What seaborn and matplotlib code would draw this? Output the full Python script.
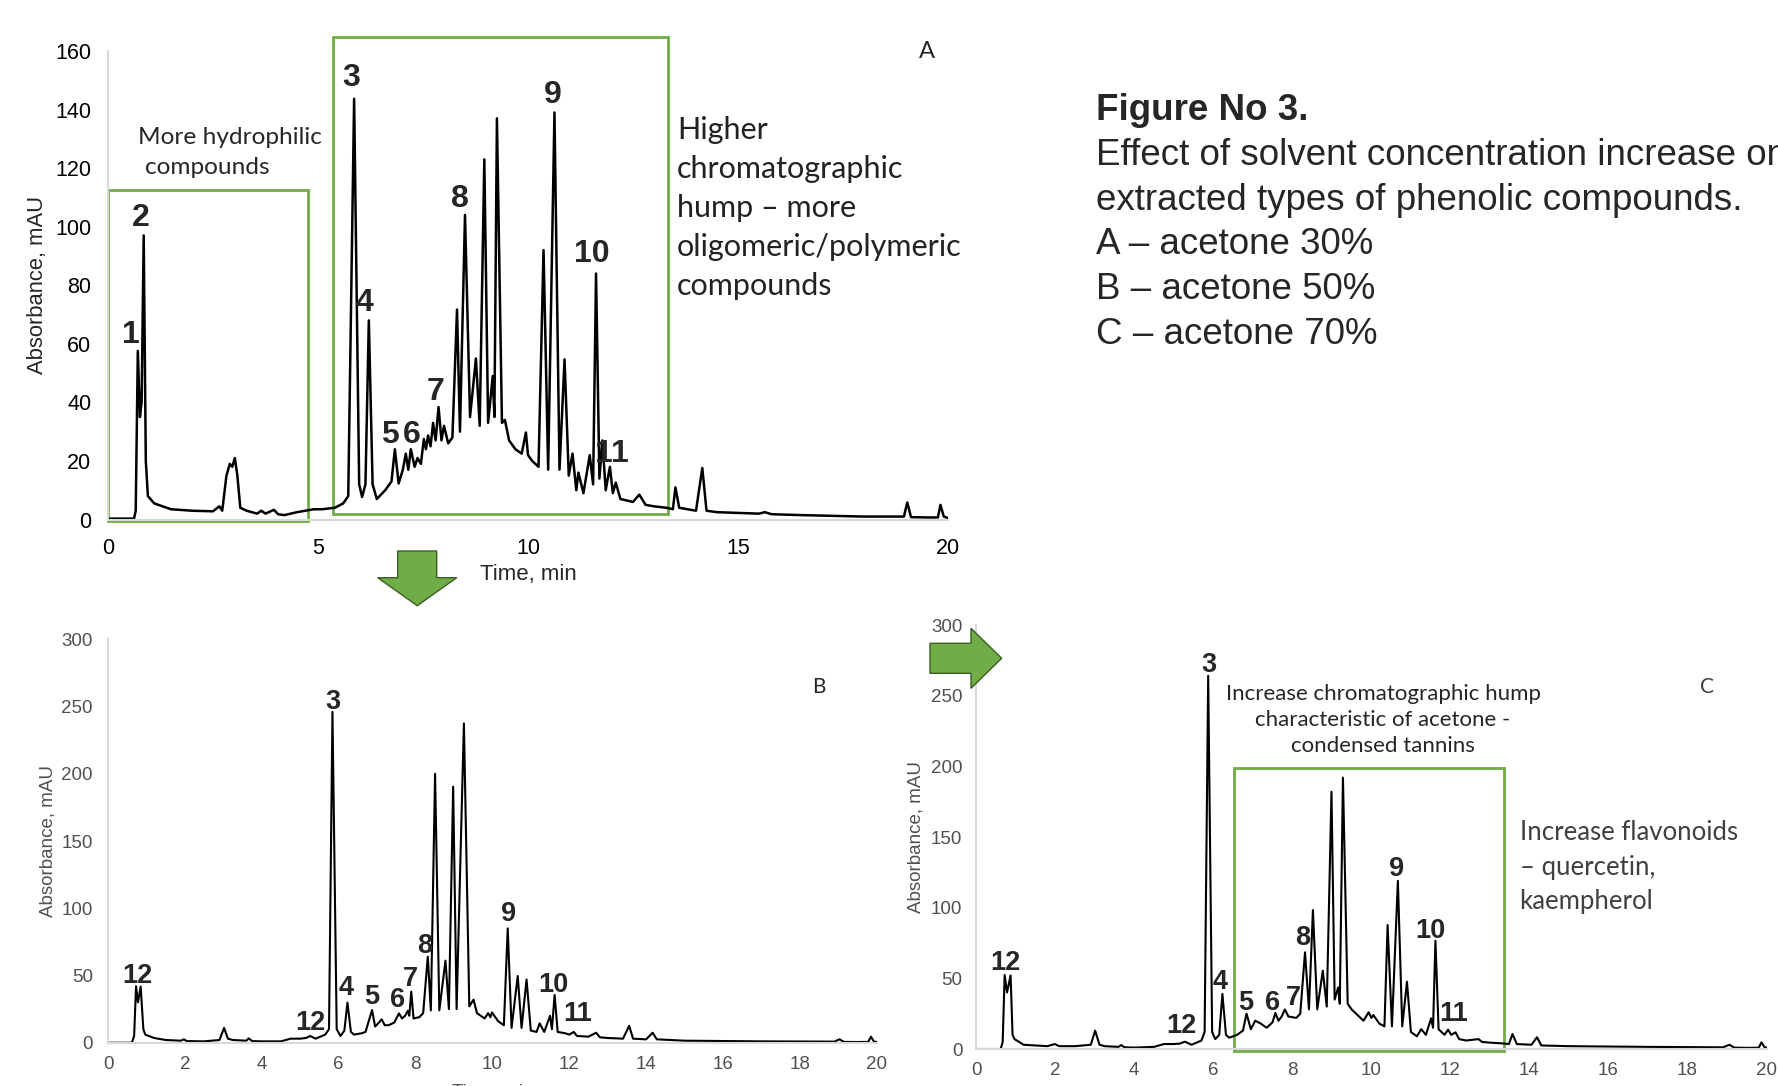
import seaborn as sns
import matplotlib.pyplot as plt
from matplotlib.patches import Polygon, Rectangle

# Chromatogram A - acetone 30% (time, min / absorbance, mAU)
time_a = [0.0, 0.62, 0.66, 0.71, 0.76, 0.80, 0.85, 0.90, 0.95, 1.1, 1.5, 2.0, 2.5, 2.65, 2.72,
          2.82, 2.9, 2.96, 3.02, 3.08, 3.15, 3.3, 3.55, 3.65, 3.75, 3.95, 4.05, 4.2, 4.5, 4.9,
          5.1, 5.4, 5.6, 5.72, 5.86, 5.98, 6.05, 6.13, 6.21, 6.3, 6.4, 6.6, 6.75, 6.83, 6.92,
          7.02, 7.09, 7.15, 7.21, 7.3, 7.37, 7.45, 7.52, 7.57, 7.62, 7.68, 7.74, 7.8, 7.87, 7.94,
          8.0, 8.1, 8.2, 8.31, 8.38, 8.5, 8.62, 8.76, 8.85, 8.96, 9.05, 9.16, 9.2, 9.26, 9.38,
          9.45, 9.55, 9.7, 9.85, 9.95, 10.0, 10.1, 10.25, 10.37, 10.48, 10.63, 10.75, 10.87, 10.97,
          11.06, 11.15, 11.2, 11.32, 11.47, 11.55, 11.62, 11.7, 11.77, 11.85, 11.95, 12.02, 12.09,
          12.2, 12.5, 12.65, 12.8, 13.0, 13.3, 13.45, 13.51, 13.6, 14.0, 14.15, 14.25, 14.5, 15.5,
          15.64, 15.8, 16.5, 18.0, 18.95, 19.03, 19.12, 19.5, 19.76, 19.82, 19.9, 20.0]
abs_a = [0.3, 0.3, 3, 57.6, 35, 40, 97, 20, 8, 5.5, 3.5, 3, 2.8, 4.5, 3,
         15, 19, 18, 21, 15, 4, 3, 2, 3, 2, 3.3, 1.8, 1.5, 2.5, 3.5,
         3.5, 4, 5.5, 8, 143.7, 12, 7.7, 12, 68, 12, 7, 10, 13, 24, 12.3,
         17, 22.5, 17, 24, 18, 21, 19, 27.5, 24, 28.7, 25, 33, 27, 38.4, 27,
         32, 26, 28, 71.7, 30, 104, 35, 55, 32, 123, 33, 49, 35, 137, 33,
         34, 27, 24, 22.5, 29.7, 22, 20, 18, 92, 17, 139, 17, 54.7, 15,
         22.5, 10, 16, 9, 22, 12, 84, 14, 27, 10, 18, 9, 12.6,
         7, 6, 8.5, 5, 4.5, 4, 3.5, 11, 4, 3, 17.6, 3, 2.5, 2,
         2.5, 1.8, 1.5, 1, 1, 5.8, 0.8, 0.7, 0.7, 5, 1, 0.5]

# Chromatogram B - acetone 50%
time_b = [0.0, 0.62, 0.68, 0.73, 0.78, 0.85, 0.92, 0.97, 1.2, 1.5, 1.9, 1.97, 2.05, 2.5, 2.9,
          3.02, 3.12, 3.25, 3.6, 3.66, 3.75, 4.0, 4.5, 4.75, 5.0, 5.15, 5.26, 5.4, 5.65, 5.75,
          5.84, 5.95, 6.05, 6.15, 6.23, 6.32, 6.4, 6.6, 6.7, 6.87, 6.95, 7.05, 7.12, 7.2, 7.3,
          7.45, 7.57, 7.65, 7.73, 7.8, 7.84, 7.89, 7.95, 8.1, 8.2, 8.32, 8.4, 8.51, 8.62, 8.78,
          8.87, 8.98, 9.07, 9.26, 9.4, 9.51, 9.6, 9.8, 9.89, 9.95, 9.99, 10.15, 10.3, 10.4, 10.5,
          10.66, 10.76, 10.89, 11.0, 11.15, 11.23, 11.35, 11.5, 11.55, 11.62, 11.7, 11.9, 12.0,
          12.12, 12.2, 12.5, 12.7, 12.8, 13.0, 13.4, 13.56, 13.66, 14.0, 14.17, 14.28, 15.0,
          17.0, 18.9, 19.03, 19.15, 19.5, 19.78, 19.85, 19.93, 20.0]
abs_b = [0, 0, 5, 42, 30, 41.7, 10, 6, 3.5, 2, 1.5, 2.5, 1.2, 1, 2,
         11, 3, 2, 1.5, 3.2, 1.2, 1, 1, 3, 3, 3.5, 5, 3, 6, 10,
         246, 10, 5, 9, 29.8, 8, 6, 7, 8, 24.3, 12, 15, 17.4, 13, 13,
         15, 21.8, 18, 20, 23.8, 20, 38, 18, 19, 22, 64, 24, 200, 24, 61,
         25, 190.4, 25, 237.5, 27, 32, 22, 18, 22, 19, 22.5, 16, 13, 85, 11,
         49.6, 11, 47, 9, 8, 14.4, 8, 20, 10, 35.5, 8, 7, 6,
         8, 5, 4.5, 7.4, 4, 3.5, 3, 12.6, 3, 2.5, 7.4, 2.5, 1.5,
         1, 0.8, 2.5, 0.6, 0.5, 0.6, 4.5, 0.8, 0.5]

# Chromatogram C - acetone 70%
time_c = [0.0, 0.62, 0.67, 0.72, 0.78, 0.87, 0.92, 0.97, 1.2, 1.8, 1.99, 2.1, 2.5, 2.9, 3.01,
          3.12, 3.25, 3.6, 3.67, 3.75, 4.0, 4.5, 4.75, 5.0, 5.15, 5.28, 5.45, 5.7, 5.78, 5.87,
          5.97, 6.05, 6.15, 6.23, 6.32, 6.4, 6.6, 6.75, 6.84, 6.95, 7.06, 7.2, 7.35, 7.5, 7.57,
          7.65, 7.73, 7.81, 7.9, 8.1, 8.2, 8.32, 8.42, 8.52, 8.63, 8.77, 8.87, 8.99, 9.07, 9.16,
          9.2, 9.28, 9.4, 9.5, 9.65, 9.8, 9.93, 10.0, 10.05, 10.2, 10.33, 10.41, 10.52, 10.67,
          10.78, 10.9, 11.0, 11.15, 11.26, 11.38, 11.51, 11.56, 11.62, 11.7, 11.85, 11.94, 12.02,
          12.13, 12.22, 12.4, 12.71, 12.8, 13.0, 13.3, 13.48, 13.57, 13.68, 14.05, 14.19, 14.3,
          15.0, 17.0, 18.9, 19.06, 19.18, 19.5, 19.8, 19.87, 19.95, 20.0]
abs_c = [0, 0, 5, 52.4, 40, 52, 10, 7, 3, 2, 3.5, 2, 2, 3, 13,
         3, 2, 1.5, 2.8, 1.2, 1, 1.5, 3.5, 3.5, 3.8, 5.2, 3, 6, 12, 264,
         12, 7, 10, 39, 10, 8, 10, 13, 25, 14, 20, 18, 15, 19, 25.5,
         20, 23, 28, 23, 22, 25, 68.4, 28, 98.3, 28, 55.4, 30, 182, 35, 43.6,
         32, 192, 32, 28, 24, 20, 26, 22, 24, 18, 16, 87.7, 16, 119,
         16, 47.6, 12, 9, 14, 10, 21.7, 15, 76.6, 14, 10, 13.7, 10,
         11.8, 7, 6, 7, 5, 4.5, 4, 3.5, 10.6, 3.5, 3, 8.3, 2.5,
         2, 1.5, 1.2, 3, 1, 0.8, 0.9, 4.7, 1.2, 1]

# peak numbers and where they sit (time, mAU)
labels_a = ["1", "2", "3", "4", "5", "6", "7", "8", "9", "10", "11"]
lab_t_a = [0.54, 0.78, 5.80, 6.10, 6.72, 7.23, 7.80, 8.37, 10.58, 11.53, 12.0]
lab_v_a = [63.1, 103, 150.7, 73.9, 29, 29, 43.4, 109.6, 144.9, 90.6, 22.5]

labels_b = ["12", "12", "3", "4", "5", "6", "7", "8", "9", "10", "11"]
lab_t_b = [0.77, 5.27, 5.84, 6.19, 6.87, 7.53, 7.88, 8.24, 10.43, 11.58, 12.21]
lab_v_b = [49.7, 14.3, 253.6, 40.4, 33.7, 32, 47.2, 71.6, 96, 43, 21]

labels_c = ["12", "12", "3", "4", "5", "6", "7", "8", "9", "10", "11"]
lab_t_c = [0.75, 5.2, 5.9, 6.16, 6.82, 7.51, 8.03, 8.27, 10.64, 11.5, 12.08]
lab_v_c = [61, 16, 272, 47.3, 32.9, 32.9, 36, 78.6, 127.5, 83.4, 24.9]

caption = ["Effect of solvent concentration increase on",
           "extracted types of phenolic compounds.",
           "A \u2013 acetone 30%", "B \u2013 acetone 50%", "C \u2013 acetone 70%"]
note_hump_a = ["Higher", "chromatographic", "hump \u2013 more", "oligomeric/polymeric", "compounds"]
note_hump_c = ["Increase chromatographic hump", "characteristic of acetone -", "condensed tannins"]
note_flav = ["Increase flavonoids", "\u2013 quercetin,", "kaempherol"]

green = "#70AD47"
W, H = 1778, 1086

sns.set_style("white")
plt.rcParams['font.family'] = ['Liberation Sans', 'DejaVu Sans']


def fx(px):
    return px / W


def fy(py):
    return 1 - py / H


fig = plt.figure(figsize=(W / 100, H / 100), dpi=100)

ax_a = fig.add_axes([fx(108), fy(519.5), fx(840), 468.5 / H])
ax_b = fig.add_axes([fx(108), fy(1042.7), fx(768.7), 403.4 / H])
ax_c = fig.add_axes([fx(976.2), fy(1049), fx(790.4), 424 / H])


def style_axes(ax, ymax, xstep, ystep, size, color, padx, pady):
    ax.set_xlim(0, 20)
    ax.set_ylim(0, ymax)
    ax.set_xticks(range(0, 21, xstep))
    ax.set_yticks(range(0, ymax + 1, ystep))
    ax.tick_params(length=0, labelsize=size, colors=color)
    ax.tick_params(axis="x", pad=padx)
    ax.tick_params(axis="y", pad=pady)
    for s in ["top", "right"]:
        ax.spines[s].set_visible(False)
    for s in ["left", "bottom"]:
        ax.spines[s].set_color("#d9d9d9")
        ax.spines[s].set_linewidth(1.5)
    ax.set_facecolor("none")


style_axes(ax_a, 160, 5, 20, 15.5, "black", 13, 12)
style_axes(ax_b, 300, 2, 50, 13.5, "#505050", 9.5, 11)
style_axes(ax_c, 300, 2, 50, 13.5, "#505050", 9.5, 10)

sns.lineplot(x=time_a, y=abs_a, ax=ax_a, color="black", lw=1.8, estimator=None, sort=False)
sns.lineplot(x=time_b, y=abs_b, ax=ax_b, color="black", lw=1.5, estimator=None, sort=False)
sns.lineplot(x=time_c, y=abs_c, ax=ax_c, color="black", lw=1.5, estimator=None, sort=False)

ax_a.set_ylabel("Absorbance, mAU", fontsize=15.8)
ax_a.yaxis.set_label_coords(-0.072, 0.5)
ax_a.set_xlabel("Time, min", fontsize=16)
ax_a.xaxis.set_label_coords(0.5, -0.095)

ax_b.set_ylabel("Absorbance, mAU", fontsize=13.5, color="#505050")
ax_b.yaxis.set_label_coords(-0.067, 0.5)
ax_b.set_xlabel("Time, min", fontsize=13.5, color="#505050")
ax_b.xaxis.set_label_coords(0.5, -0.1)

ax_c.set_ylabel("Absorbance, mAU", fontsize=13.5, color="#505050")
ax_c.yaxis.set_label_coords(-0.066, 0.5)
ax_c.set_xlabel("")

for ax, labs, ts, vs, fs in [(ax_a, labels_a, lab_t_a, lab_v_a, 23),
                             (ax_b, labels_b, lab_t_b, lab_v_b, 19.5),
                             (ax_c, labels_c, lab_t_c, lab_v_c, 19.5)]:
    for lab, t, v in zip(labs, ts, vs):
        ax.text(t, v, lab, fontsize=fs, fontweight="bold", ha="center", va="center")

# green boxes around regions of interest
ax_a.add_patch(Rectangle((0, -0.45), 4.75, 112.85, fill=False, ec=green, lw=2, clip_on=False))
ax_a.add_patch(Rectangle((5.35, 2.0), 7.98, 162.8, fill=False, ec=green, lw=2, clip_on=False))
ax_c.add_patch(Rectangle((6.52, -1.1), 6.84, 200, fill=False, ec=green, lw=2, clip_on=False))

# arrows between the panels
down = [(397.7, 551), (436.7, 551), (436.7, 577.7), (456.7, 577.7), (417.3, 605.7),
        (377.7, 577.7), (397.7, 577.7)]
right = [(930, 643.3), (971, 643.3), (971, 628.3), (1001.7, 658.3), (971, 688.3),
         (971, 673.3), (930, 673.3)]
for pts in [down, right]:
    fig.patches.append(Polygon([(fx(x), fy(y)) for x, y in pts], closed=True,
                               transform=fig.transFigure, fc=green, ec="#3b5e24", lw=1))

# annotations
calibri = ['Lato', 'DejaVu Sans']
fig.text(fx(138), fy(137), "More hydrophilic", fontsize=17.6, family=calibri, va="center")
fig.text(fx(145), fy(168), "compounds", fontsize=17.6, family=calibri, va="center")
for i, line in enumerate(note_hump_a):
    fig.text(fx(677), fy(130.4 + i * 38.9), line, fontsize=22, family=calibri,
             va="center", color="#222222")
fig.text(fx(926.5), fy(52), "A", fontsize=17, family=calibri, ha="center", va="center")
fig.text(fx(818.7), fy(687), "B", fontsize=15, family=calibri, ha="center", va="center")
fig.text(fx(1706.7), fy(687), "C", fontsize=15, family=calibri, ha="center", va="center",
         color="#404040")
for i, line in enumerate(note_hump_c):
    fig.text(fx(1383), fy(694 + i * 26), line, fontsize=16, family=calibri,
             ha="center", va="center")
for i, line in enumerate(note_flav):
    fig.text(fx(1519.6), fy(833 + i * 34.2), line, fontsize=18.5, family=calibri,
             va="center", color="#404040")

fig.text(fx(1095.5), fy(110), "Figure No 3.", fontsize=26.5, fontweight="bold", va="center")
for i, line in enumerate(caption):
    fig.text(fx(1095.5), fy(155.4 + i * 44.8), line, fontsize=26.5, va="center")

fig.savefig("out.png", dpi=100)
